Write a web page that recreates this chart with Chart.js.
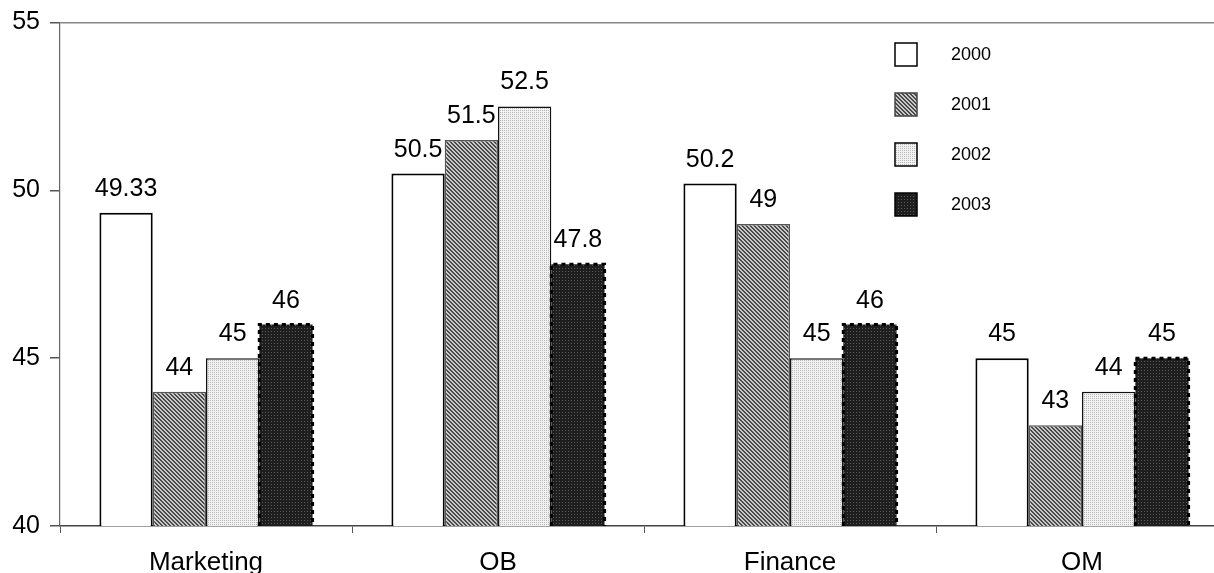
<!DOCTYPE html>
<html>
<head>
<meta charset="utf-8">
<script src="https://cdn.jsdelivr.net/npm/chart.js@4/dist/chart.umd.min.js"></script>
<style>
  html, body { margin: 0; padding: 0; background: #fff; overflow: hidden; }
  #wrap { width: 1214px; height: 573px; overflow: hidden; }
</style>
</head>
<body>
<div id="wrap"><canvas id="myChart" width="1230" height="573"></canvas></div>
<script>
//-----------------------------------
// Data
//-----------------------------------
const categories = ["Marketing", "OB", "Finance", "OM"];
const years = ["2000", "2001", "2002", "2003"];
const values2000 = [49.33, 50.5, 50.2, 45];
const values2001 = [44, 51.5, 49, 43];
const values2002 = [45, 52.5, 45, 44];
const values2003 = [46, 47.8, 46, 45];
const yTicks = [40, 45, 50, 55];

//-----------------------------------
// fill patterns (excel-like)
//-----------------------------------
function makePattern(size, draw) {
  var c = document.createElement("canvas");
  c.width = size;
  c.height = size;
  var g = c.getContext("2d");
  draw(g);
  return g.createPattern(c, "repeat");
}

// 2001: fine diagonal hatch
var hatch = makePattern(4, function (g) {
  g.fillStyle = "#c8c8c8";
  g.fillRect(0, 0, 4, 4);
  g.fillStyle = "#4a4a4a";
  for (let i = 0; i < 4; i++) {
    g.fillRect(i, i, 1, 1);
    g.fillRect((i + 1) % 4, i, 1, 1);
  }
});
// 2002: light dots
var lightDots = makePattern(2, function (g) {
  g.fillStyle = "#f2f2f2";
  g.fillRect(0, 0, 2, 2);
  g.fillStyle = "#b8b8b8";
  g.fillRect(0, 0, 1, 1);
});
// 2003: dark with dot grid
var darkDots = makePattern(3, function (g) {
  g.fillStyle = "#1e1e1e";
  g.fillRect(0, 0, 3, 3);
  g.fillStyle = "#5a5a5a";
  g.fillRect(1, 1, 1, 1);
});

const fills = ["#ffffff", hatch, lightDots, darkDots];
const borders = ["#000000", "#555555", "#111111", "#000000"];
const borderWidths = [2, 1.5, 1.5, 0];
const FONT = "'Liberation Sans', Arial, sans-serif";

//---------------------------------------------------------
// value labels, dashed border for 2003 and the legend box
//---------------------------------------------------------
const extrasPlugin = {
  id: "extras",
  afterDatasetsDraw(chart) {
    const ctx = chart.ctx;
    const bottom = chart.chartArea.bottom;
    ctx.save();
    // dashed outline of the 2003 bars
    chart.getDatasetMeta(3).data.forEach(function (bar) {
      const l = bar.x - bar.width / 2, r = bar.x + bar.width / 2;
      ctx.strokeStyle = "#000";
      ctx.lineWidth = 3;
      ctx.setLineDash([4, 4]);
      ctx.beginPath();
      ctx.moveTo(l, bottom);
      ctx.lineTo(l, bar.y);
      ctx.lineTo(r, bar.y);
      ctx.lineTo(r, bottom);
      ctx.stroke();
    });
    ctx.setLineDash([]);

    // labels above each bar
    ctx.font = "25px " + FONT;
    ctx.fillStyle = "#000";
    ctx.textAlign = "center";
    ctx.textBaseline = "alphabetic";
    chart.data.datasets.forEach(function (ds, i) {
      chart.getDatasetMeta(i).data.forEach(function (bar, j) {
        ctx.fillText(String(ds.data[j]), bar.x, bar.y - 17);
      });
    });

    // legend
    ctx.font = "18px " + FONT;
    ctx.textAlign = "left";
    ctx.textBaseline = "middle";
    chart.data.datasets.forEach(function (ds, i) {
      const bx = 895, by = 43 + 50 * i;
      ctx.fillStyle = ds.backgroundColor;
      ctx.fillRect(bx, by, 22, 23);
      ctx.lineWidth = 1.5;
      ctx.strokeStyle = i == 1 ? "#444" : "#000";
      ctx.strokeRect(bx, by, 22, 23);
      ctx.fillStyle = "#000";
      ctx.fillText(ds.label, 951, by + 12);
    });
    ctx.restore();
  }
};

//assemble data for chart
const data = {
  labels: categories,
  datasets: [values2000, values2001, values2002, values2003].map(function (vals, i) {
    return {
      label: years[i],
      data: vals,
      backgroundColor: fills[i],
      borderColor: borders[i],
      borderWidth: borderWidths[i],
      borderSkipped: "start",
      categoryPercentage: 0.73,
      barPercentage: 1.0
    };
  })
};

const config = {
  type: "bar",
  data: data,
  plugins: [extrasPlugin],
  options: {
    responsive: false,
    animation: false,
    events: [],
    layout: { padding: { top: 21, right: 2, left: 0, bottom: 0 } },
    plugins: {
      legend: { display: false },
      tooltip: { enabled: false },
      title: { display: false }
    },
    scales: {
      x: {
        grid: {
          offset: true,
          color: "transparent",
          tickColor: "#555",
          tickLength: 7,
          drawOnChartArea: false
        },
        border: { color: "#444", width: 1.5 },
        ticks: {
          color: "#000",
          padding: 14,
          font: { family: FONT, size: 26 }
        },
        afterFit: function (scale) { scale.height = 47; }
      },
      y: {
        min: 40,
        max: 55,
        afterBuildTicks: function (scale) {
          scale.ticks = yTicks.map(function (v) { return { value: v }; });
        },
        grid: {
          color: function (c) { return c.tick && c.tick.value === 55 ? "#888" : "transparent"; },
          tickColor: "#555",
          tickLength: 10,
          lineWidth: 1.5
        },
        border: { color: "#666", width: 1.2 },
        ticks: {
          color: "#000",
          padding: 10,
          font: { family: FONT, size: 25, lineHeight: 1 }
        },
        afterFit: function (scale) { scale.width = 60; }
      }
    }
  }
};

//launch ie. "create" the chart
const myChart = new Chart(document.getElementById("myChart"), config);
</script>
</body>
</html>
